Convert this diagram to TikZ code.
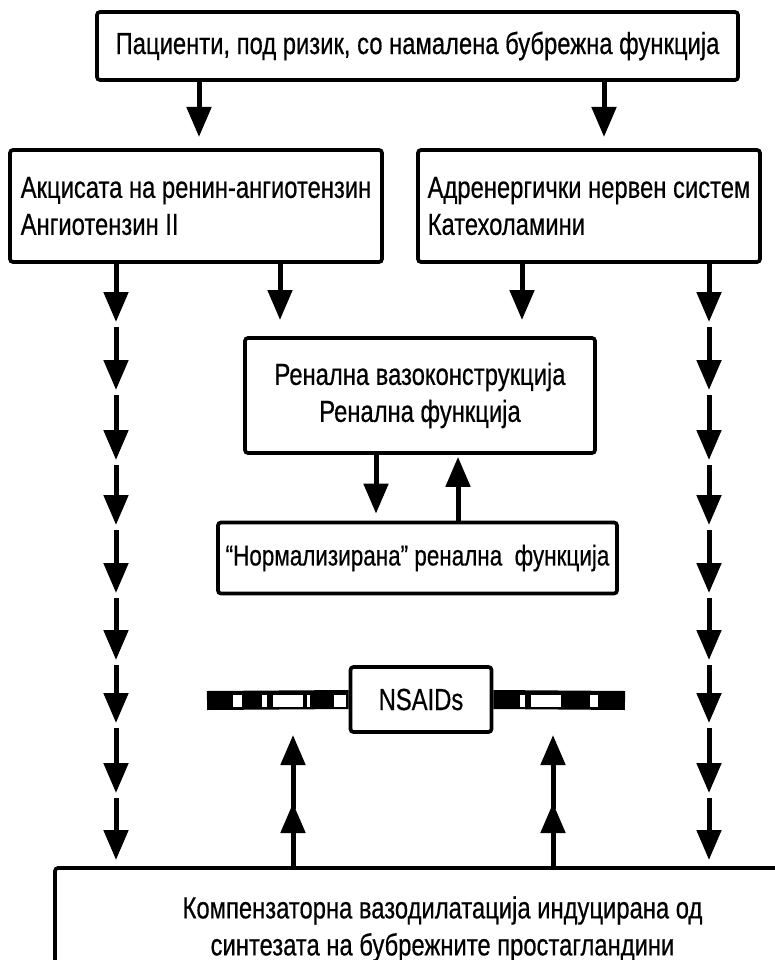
\documentclass[tikz,border=0pt]{standalone}
\usepackage{fontspec}
\setmainfont{Liberation Sans}[FakeStretch=0.78,FakeBold=0.5]
\usetikzlibrary{arrows.meta}
\begin{document}
\begin{tikzpicture}[x=1pt,y=-1pt,
  box/.style={draw, line width=3.7pt, rounded corners=3pt, inner sep=0pt,
    font=\fontsize{30.5}{37}\selectfont, align=center},
  arr/.style={line width=5pt, -{Triangle[width=24pt,length=30pt]}},
  band/.style={line width=19pt},
  cut/.style={fill=white}
]
\useasboundingbox (0,0) rectangle (775,960);
\clip (0,0) rectangle (775,960);

% boxes
\node[box, minimum width=641pt, minimum height=68pt] (top) at (417.5,46)
  {Пациенти, под ризик, со намалена бубрежна функција};
\node[box, align=left, minimum width=372pt, minimum height=112pt] (left) at (196,206)
  {Акцисата на ренин-ангиотензин\\Ангиотензин II};
\node[box, align=left, minimum width=342pt, minimum height=112pt] (right) at (589,206)
  {Адренергички нервен систем\\Катехоламини};
\node[box, minimum width=350pt, minimum height=115pt] (mid) at (420,395.5)
  {Ренална вазоконструкција\\Ренална функција};
\node[box, minimum width=399pt, minimum height=71pt, font=\fontsize{28.8}{37}\selectfont] (norm) at (417.5,558)
  {“Нормализирана” ренална\ \ функција};
\node[box, minimum width=141pt, minimum height=65pt] (nsaid) at (421,699.5)
  {NSAIDs};
\node[box, minimum width=775pt, minimum height=122pt] (bot) at (442.5,929)
  {Компензаторна вазодилатација индуцирана од\\синтезата на бубрежните простагландини};

% top arrows
\coordinate (t1) at (199,137);
\coordinate (t2) at (604,137);
\draw[arr] (top.south -| t1) -- (t1);
\draw[arr] (top.south -| t2) -- (t2);

% solid arrows into mid
\coordinate (c1) at (280,320);
\coordinate (c2) at (522,320);
\draw[arr] (left.south -| c1) -- (c1);
\draw[arr] (right.south -| c2) -- (c2);

% mid <-> norm
\coordinate (d1) at (376,0);
\coordinate (u1) at (458,0);
\draw[arr, shorten >=7pt] (mid.south -| d1) -- (norm.north -| d1);
\draw[arr, shorten >=2pt] (norm.north -| u1) -- (mid.south -| u1);

% chains of arrows
\foreach \i/\y in {1/322,2/390,3/460,4/525,5/593,6/660,7/723,8/793,9/860}{
  \coordinate (L\i) at (116,\y);
  \coordinate (R\i) at (709,\y);
}
\draw[arr] (left.south -| L1) -- (L1);
\draw[arr] (right.south -| R1) -- (R1);
\foreach \p/\i in {1/2,2/3,3/4,4/5,5/6,6/7,7/8,8/9}{
  \draw[arr] ([yshift=-5pt]L\p) -- (L\i);
  \draw[arr] ([yshift=-5pt]R\p) -- (R\i);
}

% upward arrows from bottom
\coordinate (ua1) at (293,803);
\coordinate (ub1) at (293,735);
\coordinate (ua2) at (553,803);
\coordinate (ub2) at (553,735);
\draw[arr] (bot.north -| ua1) -- (ua1);
\draw[arr] ([yshift=-6pt]ua1) -- (ub1);
\draw[arr] (bot.north -| ua2) -- (ua2);
\draw[arr] ([yshift=-6pt]ua2) -- (ub2);

% NSAIDs broken bands
\coordinate (bl) at (207,700.5);
\coordinate (br) at (625,700.5);
\draw[band] (nsaid.west) -- (bl);
\draw[band] (nsaid.east) -- (br);
\fill[cut] (233,695) rectangle (242,707);
\fill[cut] (262,695) rectangle (267,707);
\fill[cut] (273,695) rectangle (303,707);
\fill[cut] (307,695) rectangle (310,707);
\fill[cut] (334,695) rectangle (346,707);
\fill[cut] (520,695) rectangle (525,707);
\fill[cut] (531,695) rectangle (561,707);
\fill[cut] (590,695) rectangle (598,707);
\end{tikzpicture}
\end{document}
